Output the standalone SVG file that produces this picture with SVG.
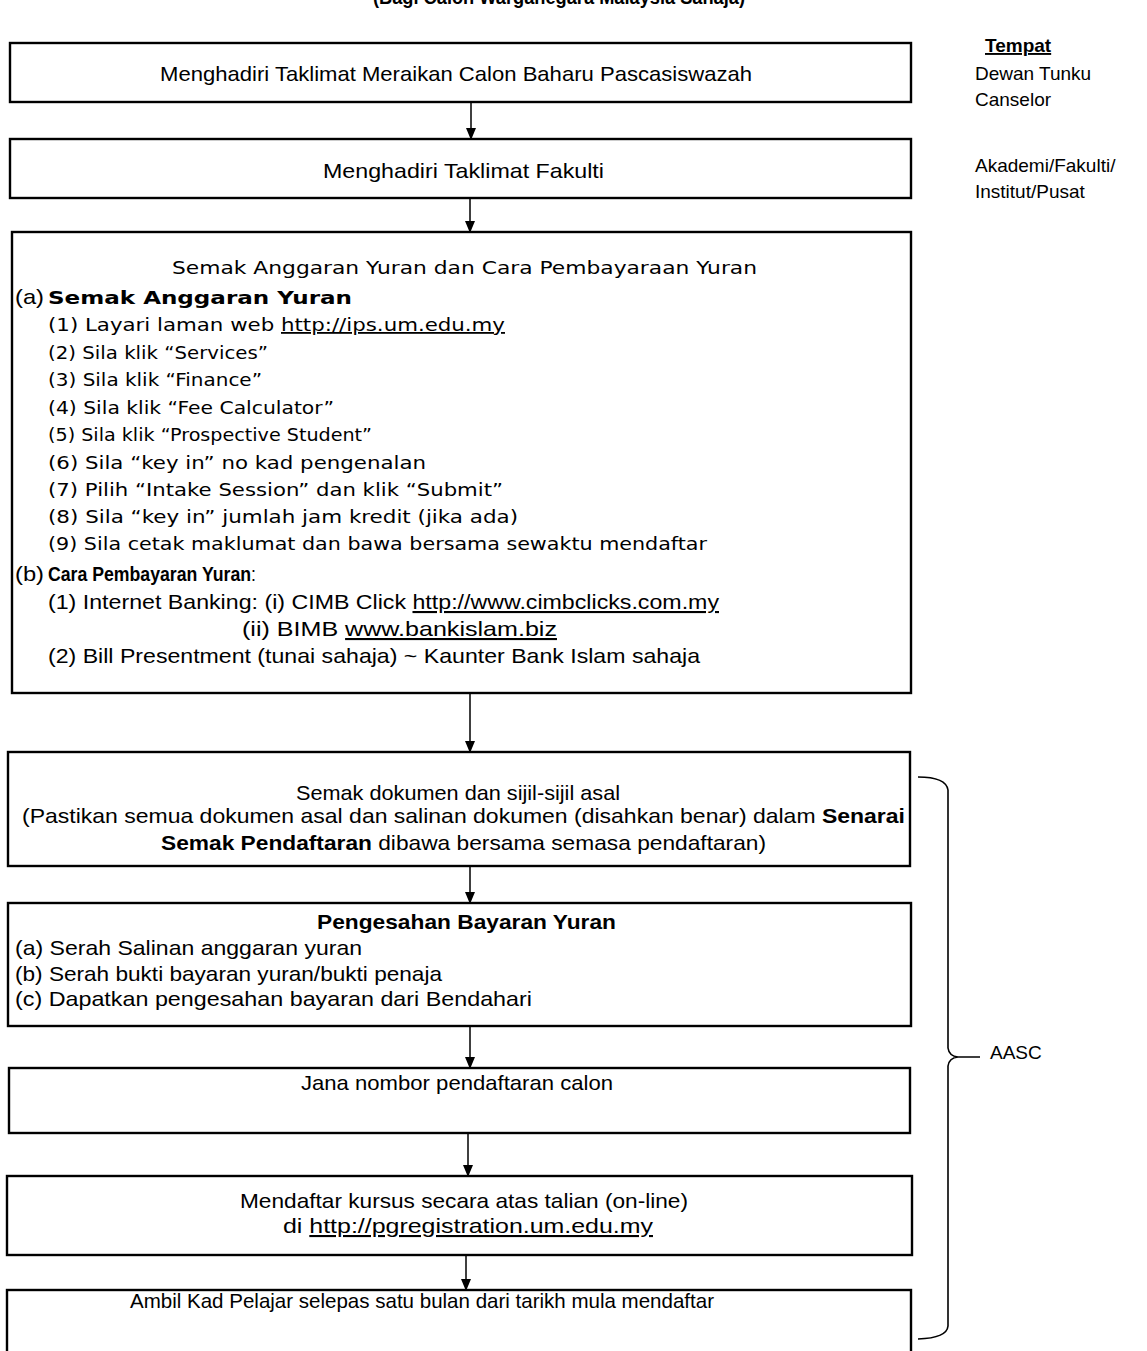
<svg xmlns="http://www.w3.org/2000/svg" width="1147" height="1351" viewBox="0 0 1147 1351">
<style>
text{font-family:"Liberation Sans",Arial,sans-serif;font-size:21px;fill:#000}
.t{font-family:"DejaVu Sans","Liberation Sans",sans-serif;font-size:18px}
.b{font-weight:bold}
.n{font-weight:normal}
.u{text-decoration:underline}
.r{font-size:19px}
.box{fill:#fff;stroke:#000;stroke-width:2.4}
.con{fill:none;stroke:#000;stroke-width:1.5}
.br{fill:none;stroke:#000;stroke-width:1.6}
</style>
<defs>
<marker id="ad" markerWidth="12" markerHeight="10" refX="11" refY="5" orient="auto" markerUnits="userSpaceOnUse" viewBox="0 0 12 10">
<path d="M0,0 L12,5 L0,10 Z" fill="#000"/>
</marker>
</defs>
<rect width="1147" height="1351" fill="#fff"/>

<g id="header">
<text x="373" y="4" class="b" textLength="372" lengthAdjust="spacingAndGlyphs">(Bagi Calon Warganegara Malaysia Sahaja)</text>
<text x="985" y="52" class="r b u">Tempat</text>
</g>

<g id="connectors">
<line class="con" x1="471" y1="102" x2="471" y2="139" marker-end="url(#ad)"/>
<line class="con" x1="470" y1="198" x2="470" y2="232" marker-end="url(#ad)"/>
<line class="con" x1="470" y1="693" x2="470" y2="752" marker-end="url(#ad)"/>
<line class="con" x1="470" y1="866" x2="470" y2="903" marker-end="url(#ad)"/>
<line class="con" x1="470" y1="1026" x2="470" y2="1068" marker-end="url(#ad)"/>
<line class="con" x1="468" y1="1133" x2="468" y2="1176" marker-end="url(#ad)"/>
<line class="con" x1="466" y1="1255" x2="466" y2="1290" marker-end="url(#ad)"/>
</g>

<g id="n1">
<rect class="box" x="10" y="43" width="901" height="59"/>
<text x="160" y="81" textLength="592" lengthAdjust="spacingAndGlyphs">Menghadiri Taklimat Meraikan Calon Baharu Pascasiswazah</text>
</g>
<g id="place1">
<text x="975" y="80" class="r">Dewan Tunku</text>
<text x="975" y="106" class="r">Canselor</text>
</g>

<g id="n2">
<rect class="box" x="10" y="139" width="901" height="59"/>
<text x="323" y="178" textLength="281" lengthAdjust="spacingAndGlyphs">Menghadiri Taklimat Fakulti</text>
</g>
<g id="place2">
<text x="975" y="172" class="r">Akademi/Fakulti/</text>
<text x="975" y="198" class="r">Institut/Pusat</text>
</g>

<g id="n3">
<rect class="box" x="12" y="232" width="899" height="461"/>
<text x="172" y="274" class="t" textLength="585" lengthAdjust="spacingAndGlyphs">Semak Anggaran Yuran dan Cara Pembayaraan Yuran</text>
<text x="15" y="304" textLength="29" lengthAdjust="spacingAndGlyphs">(a)</text>
<text x="48" y="304" class="t b" textLength="304" lengthAdjust="spacingAndGlyphs">Semak Anggaran Yuran</text>
<text x="48" y="331" class="t" textLength="457" lengthAdjust="spacingAndGlyphs">(1)  Layari laman web <tspan class="u">http://ips.um.edu.my</tspan></text>
<text x="48" y="359" class="t" textLength="220" lengthAdjust="spacingAndGlyphs">(2)  Sila klik “Services”</text>
<text x="48" y="386" class="t" textLength="214" lengthAdjust="spacingAndGlyphs">(3)  Sila klik “Finance”</text>
<text x="48" y="414" class="t" textLength="286" lengthAdjust="spacingAndGlyphs">(4)  Sila klik “Fee Calculator”</text>
<text x="48" y="441" class="t" textLength="324" lengthAdjust="spacingAndGlyphs">(5)  Sila klik “Prospective Student”</text>
<text x="48" y="469" class="t" textLength="378" lengthAdjust="spacingAndGlyphs">(6)  Sila “key in” no kad pengenalan</text>
<text x="48" y="496" class="t" textLength="455" lengthAdjust="spacingAndGlyphs">(7)  Pilih “Intake Session” dan klik “Submit”</text>
<text x="48" y="523" class="t" textLength="470" lengthAdjust="spacingAndGlyphs">(8)  Sila “key in” jumlah jam kredit (jika ada)</text>
<text x="48" y="550" class="t" textLength="659" lengthAdjust="spacingAndGlyphs">(9)  Sila cetak maklumat dan bawa bersama sewaktu mendaftar</text>
<text x="15" y="581" textLength="29" lengthAdjust="spacingAndGlyphs">(b)</text>
<text x="48" y="581" class="b" textLength="208" lengthAdjust="spacingAndGlyphs">Cara Pembayaran Yuran<tspan class="n">:</tspan></text>
<text x="48" y="609" textLength="671" lengthAdjust="spacingAndGlyphs">(1) Internet Banking: (i) CIMB Click <tspan class="u">http://www.cimbclicks.com.my</tspan></text>
<text x="242" y="636" textLength="315" lengthAdjust="spacingAndGlyphs">(ii) BIMB <tspan class="u">www.bankislam.biz</tspan></text>
<text x="48" y="663" textLength="652" lengthAdjust="spacingAndGlyphs">(2) Bill Presentment (tunai sahaja) ~ Kaunter Bank Islam sahaja</text>
</g>

<g id="n4">
<rect class="box" x="8" y="752" width="902" height="114"/>
<text x="296" y="800" textLength="324" lengthAdjust="spacingAndGlyphs">Semak dokumen dan sijil-sijil asal</text>
<text x="22" y="823" textLength="883" lengthAdjust="spacingAndGlyphs">(Pastikan semua dokumen asal dan salinan dokumen (disahkan benar) dalam <tspan class="b">Senarai</tspan></text>
<text x="161" y="850" textLength="605" lengthAdjust="spacingAndGlyphs"><tspan class="b">Semak Pendaftaran</tspan> dibawa bersama semasa pendaftaran)</text>
</g>

<g id="n5">
<rect class="box" x="8" y="903" width="903" height="123"/>
<text x="317" y="929" class="b" textLength="299" lengthAdjust="spacingAndGlyphs">Pengesahan Bayaran Yuran</text>
<text x="15" y="955" textLength="347" lengthAdjust="spacingAndGlyphs">(a) Serah Salinan anggaran yuran</text>
<text x="15" y="981" textLength="427" lengthAdjust="spacingAndGlyphs">(b) Serah bukti bayaran yuran/bukti penaja</text>
<text x="15" y="1006" textLength="517" lengthAdjust="spacingAndGlyphs">(c) Dapatkan pengesahan bayaran dari Bendahari</text>
</g>

<g id="n6">
<rect class="box" x="9" y="1068" width="901" height="65"/>
<text x="301" y="1090" textLength="312" lengthAdjust="spacingAndGlyphs">Jana nombor pendaftaran calon</text>
</g>

<g id="n7">
<rect class="box" x="7" y="1176" width="905" height="79"/>
<text x="240" y="1208" textLength="448" lengthAdjust="spacingAndGlyphs">Mendaftar kursus secara atas talian (on-line)</text>
<text x="283" y="1233" textLength="370" lengthAdjust="spacingAndGlyphs">di <tspan class="u">http://pgregistration.um.edu.my</tspan></text>
</g>

<g id="n8">
<rect class="box" x="7" y="1290" width="904" height="80"/>
<text x="130" y="1308" textLength="584" lengthAdjust="spacingAndGlyphs">Ambil Kad Pelajar selepas satu bulan dari tarikh mula mendaftar</text>
</g>

<g id="aasc">
<path class="br" d="M918,777 Q946,777 948,790 L948,1048 Q949,1056 958,1057 L980,1057 M958,1057 Q949,1058 948,1066 L948,1326 Q947,1338 918,1339"/>
<text x="990" y="1059" class="r">AASC</text>
</g>
</svg>
